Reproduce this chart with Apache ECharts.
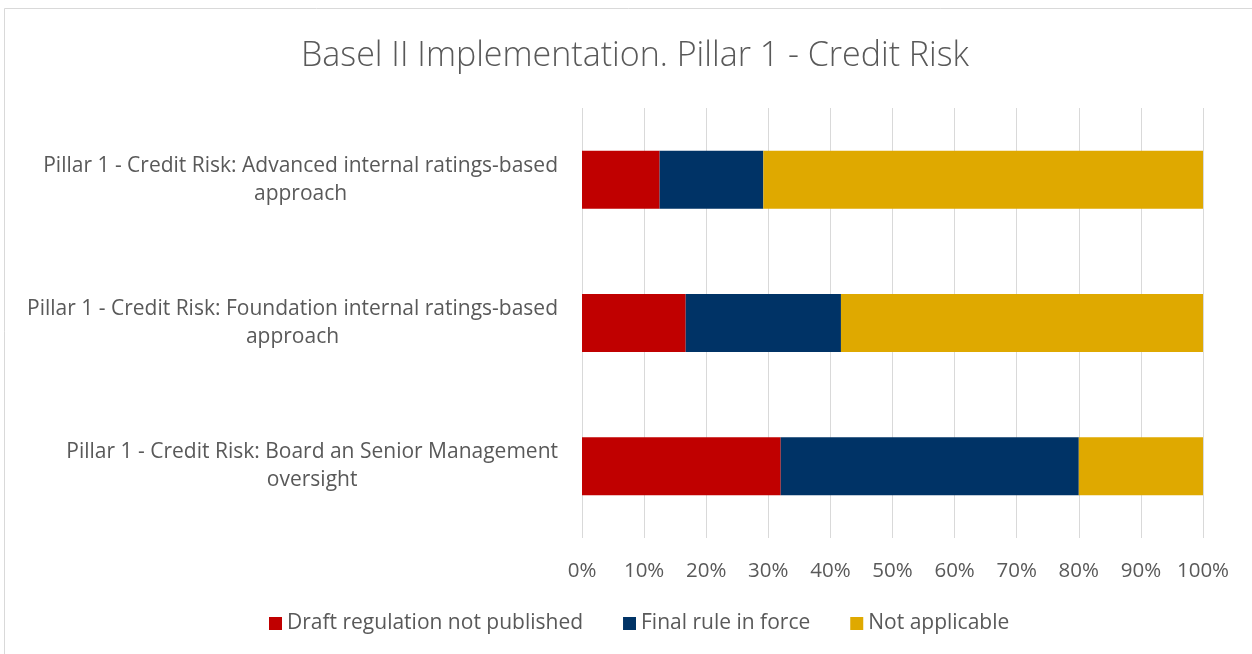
<!DOCTYPE html>
<html lang="en" style="height: 100%">
<head>
    <meta charset="utf-8">
    <script src="https://cdn.jsdelivr.net/npm/echarts@6/dist/echarts.min.js"></script>
</head>
<body style="height: 100%; margin: 0; background: #fff">
    <div id="container" style="width: 1252px; height: 654px;"></div>
    <script>
        // categories, top to bottom
        var categories = [
            'Pillar 1 - Credit Risk: Advanced internal ratings-based approach',
            'Pillar 1 - Credit Risk: Foundation internal ratings-based approach',
            'Pillar 1 - Credit Risk: Board an Senior Management oversight'
        ];
        // shares in percent
        var draftNotPublished = [12.5, 16.7, 32];
        var finalRuleInForce = [16.7, 25, 48];
        var notApplicable = [70.8, 58.3, 20];
        var tickLabels = ['0%', '10%', '20%', '30%', '40%', '50%', '60%', '70%', '80%', '90%', '100%'];

        var textColor = '#595959';
        var font = '"Open Sans"';

        // split the long names in two lines like the original
        function wrapLabel(name) {
            if (name.length <= 57) return '{a|' + name + '}';
            var cut = name.lastIndexOf(' ', 57);
            return '{a|' + name.slice(0, cut) + '}\n{a|' + name.slice(cut + 1) + '}';
        }

        var myChart = echarts.init(document.getElementById('container'), null, { renderer: 'canvas' });

        var option = {
            animation: false,
            graphic: [{
                type: 'rect',
                shape: { x: 4.5, y: 8.5, width: 1300, height: 700 },
                style: { fill: 'none', stroke: '#d9d9d9', lineWidth: 1 },
                silent: true
            }],
            title: {
                text: 'Basel II Implementation. Pillar 1 - Credit Risk',
                left: 296,
                top: 34,
                textStyle: { fontFamily: font, fontSize: 34, fontWeight: 300, color: textColor }
            },
            legend: {
                bottom: 15,
                left: 264,
                itemWidth: 13,
                itemHeight: 13,
                itemGap: 40,
                icon: 'rect',
                textStyle: { fontFamily: font, fontSize: 21, color: textColor },
                data: ['Draft regulation not published', 'Final rule in force', 'Not applicable']
            },
            grid: { left: 582, right: 49, top: 108, height: 430, containLabel: false },
            xAxis: {
                type: 'value',
                min: 0,
                max: 100,
                interval: 10,
                axisLine: { show: false },
                axisTick: { show: false },
                splitLine: { lineStyle: { color: '#d9d9d9', width: 1 } },
                axisLabel: {
                    margin: 23,
                    fontFamily: font,
                    fontSize: 20.5,
                    color: textColor,
                    formatter: function (v) { return tickLabels[Math.round(v / 10)]; }
                }
            },
            yAxis: {
                type: 'category',
                inverse: true,
                data: categories,
                axisLine: { show: false },
                axisTick: { show: false },
                axisLabel: {
                    margin: 24,
                    align: 'right',
                    formatter: wrapLabel,
                    rich: {
                        a: { align: 'center', fontFamily: font, fontSize: 21, color: textColor, lineHeight: 28 }
                    }
                }
            },
            series: [
                {
                    name: 'Draft regulation not published',
                    type: 'bar',
                    stack: 'total',
                    barWidth: 58,
                    itemStyle: { color: '#c00000' },
                    data: draftNotPublished
                },
                {
                    name: 'Final rule in force',
                    type: 'bar',
                    stack: 'total',
                    barWidth: 58,
                    itemStyle: { color: '#003366' },
                    data: finalRuleInForce
                },
                {
                    name: 'Not applicable',
                    type: 'bar',
                    stack: 'total',
                    barWidth: 58,
                    itemStyle: { color: '#dfa900' },
                    data: notApplicable
                }
            ]
        };

        myChart.setOption(option);
        window.addEventListener('resize', myChart.resize);
    </script>
</body>
</html>
